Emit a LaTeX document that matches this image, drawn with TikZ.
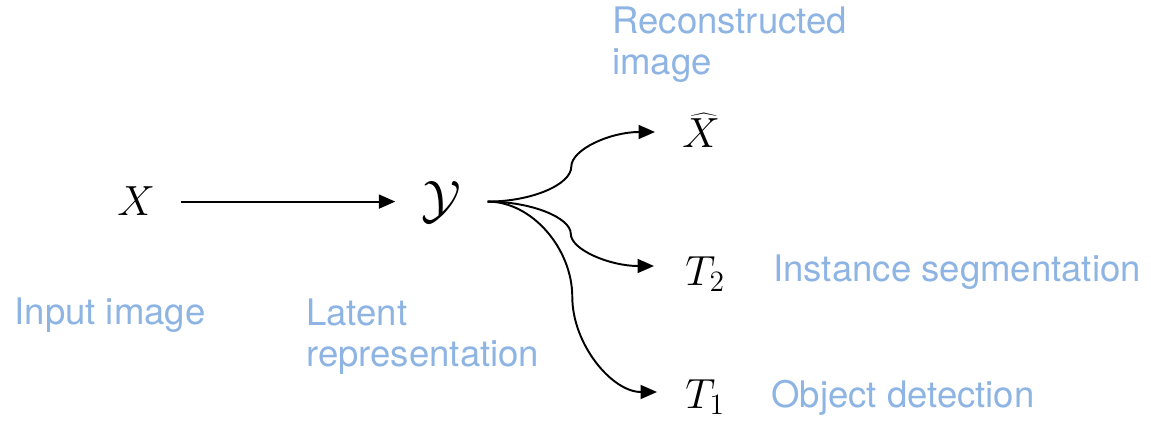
\RequirePackage{fix-cm}
\documentclass[tikz,border=0pt]{standalone}
\usepackage{fontspec}
\setsansfont{TeX Gyre Heros}
\usetikzlibrary{arrows.meta,positioning,calc}
\definecolor{softlabel}{RGB}{142,180,227}

\begin{document}
\begin{tikzpicture}[
  var/.style={inner sep=0pt,font=\fontsize{24}{28}\selectfont},
  lbl/.style={inner sep=0pt,anchor=base west,align=left,text=softlabel,font=\sffamily\fontsize{20.8}{23.4}\selectfont},
  arrow/.style={-{Triangle[length=3.3mm,width=2.8mm]},line width=1.1pt}
]
\useasboundingbox (0,0) rectangle (23.02,-8.46);
\node[var,inner xsep=0.52cm,anchor=base west] (input) at (1.82,-4.32) {$X$};
\node[var,inner xsep=0.52cm,font=\fontsize{30}{34}\selectfont,right=4.28cm of input] (latent) {$\mathcal{Y}$};
\node[var,anchor=base west] (recon) at (13.64,-2.96) {$\widehat{X}$};
\node[var,anchor=base west] (seg) at (13.70,-5.70) {$T_2$};
\node[var,anchor=base west] (det) at (13.70,-8.16) {$T_1$};
\coordinate (recon in) at ($(recon.base west)+(-0.54,0.32)$);
\coordinate (seg in) at ($(seg.base west)+(-0.62,0.38)$);
\coordinate (det in) at ($(det.base west)+(-0.56,0.32)$);
\node[lbl] (recon lbl) at (12.24,-1.50) {Reconstructed\\image};
\node[lbl] (input lbl) at (0.28,-6.50) {Input image};
\node[lbl] (latent lbl) at (6.12,-7.34) {Latent\\representation};
\node[lbl] (seg lbl) at (15.46,-5.64) {Instance segmentation};
\node[lbl] (det lbl) at (15.42,-8.14) {Object detection};
\draw[arrow] (input) -- (latent);
\draw[arrow] (latent.east) .. controls +(0.89,0) and +(0,-0.35) .. ($(latent.east)!0.5!(recon in)$) .. controls +(0,0.35) and +(-0.89,0) .. (recon in);
\draw[arrow] (latent.east) .. controls +(0.88,0) and +(0,0.32) .. ($(latent.east)!0.5!(seg in)$) .. controls +(0,-0.32) and +(-0.88,0) .. (seg in);
\draw[arrow] (latent.east) .. controls +(0.90,0) and +(0,0.95) .. ($(latent.east)!0.5!(det in)$) .. controls +(0,-0.95) and +(-0.90,0) .. (det in);
\end{tikzpicture}
\end{document}
